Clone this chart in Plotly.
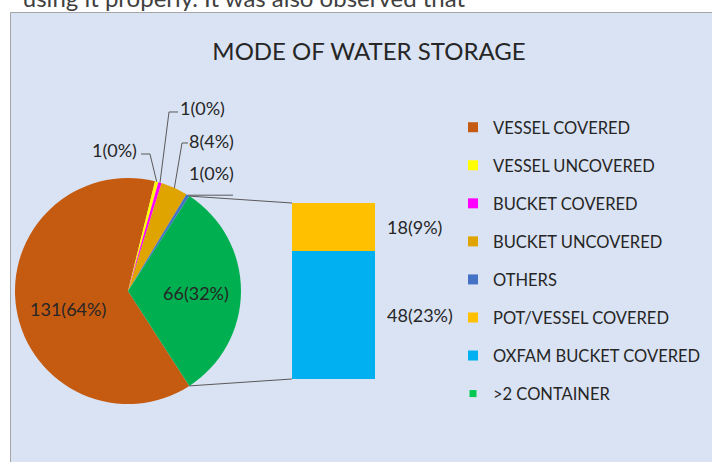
import math
import plotly.graph_objects as go

W, H = 712, 462

# ---------------- data ----------------
pie_categories = ["VESSEL COVERED", "VESSEL UNCOVERED", "BUCKET COVERED",
                  "BUCKET UNCOVERED", "OTHERS", ">2 CONTAINER"]
pie_values = [131, 1, 1, 8, 1, 66]
pie_pct = [64, 0, 0, 4, 0, 32]
pie_colors = ["#C55A11", "#FFFF00", "#FF00FF", "#E0A400", "#4472C4", "#00B050"]

bar_categories = ["OXFAM BUCKET COVERED", "POT/VESSEL COVERED"]   # bottom -> top
bar_values = [48, 18]
bar_pct = [23, 9]
bar_colors = ["#00B0F0", "#FFC000"]

legend_names = ["VESSEL COVERED", "VESSEL UNCOVERED", "BUCKET COVERED", "BUCKET UNCOVERED",
                "OTHERS", "POT/VESSEL COVERED", "OXFAM BUCKET COVERED", ">2 CONTAINER"]
legend_colors = ["#C55A11", "#FFFF00", "#FF00FF", "#E0A400", "#4472C4", "#FFC000", "#00B0F0", "#00C853"]

title_text = "MODE OF WATER STORAGE"
doc_text = "using it properly. It was also observed that"

# ---------------- helpers ----------------
def px(x):
    return x / W


def py(y):
    return 1 - y / H


FONT = "Lato"
TXT = "#262626"
LINE = "#595959"

# pie geometry (pixels)
CX, CY, R = 128, 291, 113
total = sum(pie_values)
other_span = pie_values[-1] / total * 360
rotation = 90 + other_span / 2

angles = []
a = rotation
for v in pie_values:
    a1 = a + v / total * 360
    angles.append((a, a1))
    a = a1


def pt(theta, r=R):
    t = math.radians(theta)
    return CX + r * math.sin(t), CY - r * math.cos(t)


# bar geometry (pixels)
BX0, BX1, BY0, BY1 = 292, 375, 203, 379

fig = go.Figure()

fig.add_trace(go.Pie(
    labels=pie_categories, values=pie_values, sort=False, direction="clockwise",
    rotation=rotation,
    marker=dict(colors=pie_colors, line=dict(width=0)),
    textinfo="none",
    domain=dict(x=[px(CX - R), px(CX + R)], y=[py(CY + R), py(CY - R)]),
    showlegend=False,
))

for cat, val, col in zip(bar_categories, bar_values, bar_colors):
    fig.add_trace(go.Bar(x=[0], y=[val], name=cat, width=1,
                         marker=dict(color=col, line=dict(width=0)),
                         showlegend=False, xaxis="x", yaxis="y"))

# legend entries
for i, (name, col) in enumerate(zip(legend_names, legend_colors)):
    fig.add_trace(go.Scatter(x=[None], y=[None], mode="markers", name=name,
                             legendgroup=f"g{i}",
                             marker=dict(symbol="square", size=10 if i < 7 else 7, color=col),
                             xaxis="x", yaxis="y"))

# document text above the chart (clipped)
fig.add_trace(go.Scatter(x=[244], y=[1], mode="text", text=[doc_text],
                         textfont=dict(family=FONT, size=24, color="#404040"),
                         textposition="middle center", cliponaxis=True,
                         showlegend=False, hoverinfo="skip", xaxis="x2", yaxis="y2"))

shapes = [
    dict(type="rect", xref="paper", yref="paper", x0=px(10.5), x1=1.2, y0=-0.2, y1=py(12.5),
         fillcolor="#DAE3F3", line=dict(color="#A6A6A6", width=1), layer="below"),
]

# connectors between pie "other" slice and bar
g0, g1 = angles[-1]
sx, sy = pt(g0)
ex, ey = pt(g1)
shapes.append(dict(type="line", xref="paper", yref="paper", x0=px(sx), y0=py(sy),
                   x1=px(BX0), y1=py(BY0), line=dict(color=LINE, width=1)))
shapes.append(dict(type="line", xref="paper", yref="paper", x0=px(ex), y0=py(ey),
                   x1=px(BX0), y1=py(BY1), line=dict(color=LINE, width=1)))

annotations = []

# labels inside the two large slices
inside_labels = [(0, 68, 309), (5, 196, 293)]
for idx, lx, ly in inside_labels:
    annotations.append(dict(xref="paper", yref="paper", x=px(lx), y=py(ly),
                            text=f"{pie_values[idx]}({pie_pct[idx]}%)",
                            xanchor="center", yanchor="middle", showarrow=False,
                            font=dict(family=FONT, size=18, color=TXT)))

# leader lines + labels for small slices
# (slice index, elbow pixel, end pixel, label x, label y, anchor)
leaders = [
    (1, (150, 154), (141, 154), 139, 150, "right"),
    (2, (169, 112), (178, 112), 178, 108, "left"),
    (3, (182, 143), (188, 143), 187, 141, "left"),
    (4, None, (233, None), 187, 173, "left"),
]
for idx, elbow, end, lx, ly, anch in leaders:
    mid = (angles[idx][0] + angles[idx][1]) / 2
    x0, y0 = pt(mid)
    pts = [(x0, y0)]
    if elbow is not None:
        pts.append(elbow)
        pts.append(end)
    else:
        pts.append((end[0], y0))
    path = "M " + " L ".join(f"{px(x):.5f},{py(y):.5f}" for x, y in pts)
    shapes.append(dict(type="path", xref="paper", yref="paper", path=path,
                       line=dict(color=LINE, width=1)))
    annotations.append(dict(xref="paper", yref="paper", x=px(lx), y=py(ly),
                            text=f"{pie_values[idx]}({pie_pct[idx]}%)",
                            xanchor=anch, yanchor="middle", showarrow=False,
                            font=dict(family=FONT, size=18, color=TXT)))

# bar labels
cum = 0
for val, p in zip(bar_values, bar_pct):
    mid = cum + val / 2
    cum += val
    annotations.append(dict(xref="x", yref="y", x=0.5, y=mid, xshift=10,
                            text=f"{val}({p}%)", xanchor="left", yanchor="middle",
                            showarrow=False, font=dict(family=FONT, size=18, color=TXT)))

fig.update_layout(
    width=W, height=H,
    margin=dict(l=0, r=0, t=0, b=0),
    paper_bgcolor="white", plot_bgcolor="rgba(0,0,0,0)",
    barmode="stack", bargap=0,
    title=dict(text=title_text, x=px(369), y=py(52), xanchor="center", yanchor="middle",
               font=dict(family=FONT, size=24, color=TXT)),
    xaxis=dict(domain=[px(BX0), px(BX1)], range=[-0.5, 0.5], visible=False, fixedrange=True),
    yaxis=dict(domain=[py(BY1), py(BY0)], range=[0, sum(bar_values)], visible=False, fixedrange=True),
    xaxis2=dict(domain=[0, 1], range=[0, W], visible=False, anchor="y2", fixedrange=True),
    yaxis2=dict(domain=[py(12), 1], range=[12, 0], visible=False, anchor="x2", fixedrange=True),
    legend=dict(x=px(453), y=py(110), xanchor="left", yanchor="top",
                font=dict(family=FONT, size=16.5, color=TXT),
                bgcolor="rgba(0,0,0,0)", tracegroupgap=13.6, traceorder="grouped"),
    shapes=shapes,
    annotations=annotations,
    showlegend=True,
)

fig.write_html("out.html", config={"displayModeBar": False},
               post_script="document.body.style.margin='0';")
